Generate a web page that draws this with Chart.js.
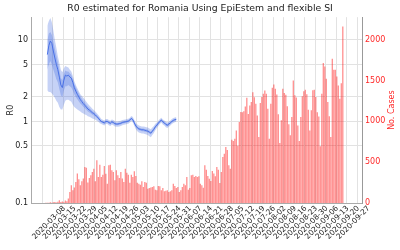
<!DOCTYPE html>
<html>
<head>
<meta charset="utf-8">
<script src="https://cdn.jsdelivr.net/npm/chart.js@4"></script>
<style>
  html, body { margin: 0; padding: 0; background: #fff; }
  #wrap { width: 400px; height: 250px; }
</style>
</head>
<body>
<div id="wrap"><canvas id="chart" width="400" height="250"></canvas></div>
<script>
// daily new cases, first value is 2020-03-07
const casesStart = '2020-03-07';
const cases = [
  2, 4, 2, 8, 3, 10, 12, 5, 15, 34, 12, 18, 10, 30, 20, 55,
  135, 216, 155, 190, 257, 360, 290, 216, 265, 300, 440, 430, 250, 306,
  339, 380, 420, 265, 523, 318, 469, 318, 347, 453, 359, 237, 461, 469,
  400, 380, 277, 400, 339, 306, 380, 300, 257, 420, 370, 347, 249, 347,
  318, 388, 330, 249, 237, 224, 265, 196, 257, 249, 175, 184, 190, 196,
  204, 163, 155, 208, 204, 155, 184, 143, 150, 155, 135, 143, 155, 237,
  208, 184, 196, 135, 155, 196, 237, 216, 318, 163, 184, 339, 347, 318,
  330, 318, 326, 237, 216, 188, 461, 408, 330, 298, 269, 392, 360, 326,
  440, 408, 245, 379, 563, 604, 685, 650, 461, 420, 775, 760, 787, 889,
  700, 991, 1114, 1110, 1123, 1180, 1287, 1090, 1195, 1236, 1357, 1295, 1216, 1070,
  808, 1224, 1297, 1336, 1377, 1338, 1154, 787, 1216, 1410, 1451, 1400, 1328, 1085,
  734, 1012, 1398, 1347, 1324, 1184, 963, 828, 1053, 1500, 1318, 1290, 950, 759,
  1053, 1306, 1367, 1385, 1330, 1143, 889, 1134, 1379, 1385, 1298, 1110, 1060, 694,
  1338, 1713, 1672, 1520, 1236, 1061, 808, 1767, 1631, 1632, 1550, 1439, 1275, 1467,
  2162
];

// R0 estimate, first value is 2020-03-08
const r0Start = '2020-03-08';
const r0Mean = [
  6.6, 8.5, 9.7, 9.0, 7.3, 6.0, 5.0, 4.3, 3.5, 2.8, 2.6, 3.2, 3.7, 3.6, 3.7, 3.5,
  3.4, 3.0, 2.6, 2.35, 2.15, 2.0, 1.85, 1.75, 1.65, 1.58, 1.5, 1.42, 1.38, 1.33,
  1.28, 1.25, 1.2, 1.15, 1.1, 1.04, 1.0, 0.98, 0.96, 1.0, 1.0, 0.97, 0.95, 0.99,
  0.97, 0.94, 0.93, 0.93, 0.94, 0.95, 0.97, 0.98, 0.99, 1.0, 1.01, 1.04, 1.09, 1.05,
  0.96, 0.88, 0.84, 0.81, 0.8, 0.79, 0.79, 0.78, 0.77, 0.76, 0.74, 0.72, 0.76, 0.8,
  0.86, 0.9, 0.95, 1.0, 1.04, 0.99, 0.96, 0.92, 0.9, 0.93, 0.96, 1.0, 1.03, 1.05, 1.06
];
const r0Hi95 = [
  15, 17, 18.5, 16.5, 13, 10, 8, 6.3, 5.2, 4.3, 4.0, 4.5, 4.8, 4.7, 4.6, 4.3,
  4.1, 3.6, 3.1, 2.8, 2.55, 2.35, 2.15, 2.05, 1.95, 1.85, 1.75, 1.65, 1.57, 1.5,
  1.43, 1.38, 1.32, 1.26, 1.2, 1.13, 1.07, 1.05, 1.03, 1.07, 1.07, 1.04, 1.02, 1.06,
  1.04, 1.01, 1.0, 1.0, 1.01, 1.02, 1.04, 1.05, 1.06, 1.07, 1.08, 1.11, 1.17, 1.13,
  1.04, 0.96, 0.92, 0.89, 0.88, 0.87, 0.87, 0.86, 0.85, 0.84, 0.82, 0.8, 0.84, 0.88,
  0.94, 0.97, 1.02, 1.07, 1.11, 1.06, 1.03, 0.99, 0.97, 1.0, 1.03, 1.07, 1.1, 1.12, 1.13
];
const r0Lo95 = [
  2.4, 2.3, 2.3, 2.2, 2.1, 1.95, 1.8, 1.7, 1.5, 1.4, 1.4, 1.6, 1.8, 1.85, 1.85, 1.8,
  1.75, 1.6, 1.5, 1.45, 1.4, 1.36, 1.32, 1.28, 1.25, 1.22, 1.2, 1.16, 1.14, 1.12,
  1.09, 1.07, 1.05, 1.02, 0.99, 0.95, 0.93, 0.91, 0.89, 0.93, 0.93, 0.9, 0.88, 0.92,
  0.9, 0.87, 0.86, 0.86, 0.87, 0.88, 0.9, 0.91, 0.92, 0.93, 0.94, 0.97, 1.01, 0.97,
  0.88, 0.8, 0.76, 0.73, 0.72, 0.71, 0.71, 0.7, 0.69, 0.68, 0.66, 0.64, 0.68, 0.72,
  0.78, 0.83, 0.88, 0.93, 0.97, 0.92, 0.89, 0.85, 0.83, 0.86, 0.89, 0.93, 0.96, 0.98, 0.99
];
const r0Hi50 = [
  10, 12, 12.5, 11.5, 9.5, 7.8, 6.4, 5.3, 4.3, 3.4, 3.2, 3.8, 4.2, 4.1, 4.1, 3.9,
  3.7, 3.3, 2.85, 2.6, 2.38, 2.2, 2.02, 1.9, 1.78, 1.7, 1.6, 1.52, 1.46, 1.4,
  1.34, 1.3, 1.25, 1.2, 1.14, 1.08, 1.03, 1.01, 0.99, 1.03, 1.03, 1.0, 0.98, 1.02,
  1.0, 0.97, 0.96, 0.96, 0.97, 0.98, 1.0, 1.01, 1.02, 1.03, 1.04, 1.07, 1.12, 1.08,
  0.99, 0.91, 0.87, 0.84, 0.83, 0.82, 0.82, 0.81, 0.8, 0.79, 0.77, 0.75, 0.79, 0.83,
  0.89, 0.93, 0.98, 1.03, 1.07, 1.02, 0.99, 0.95, 0.93, 0.96, 0.99, 1.03, 1.06, 1.08, 1.09
];
const r0Lo50 = [
  4.3, 5.0, 5.5, 5.0, 4.3, 3.8, 3.3, 3.0, 2.5, 2.1, 2.0, 2.4, 2.7, 2.7, 2.8, 2.7,
  2.6, 2.4, 2.15, 2.0, 1.87, 1.76, 1.66, 1.59, 1.51, 1.45, 1.39, 1.32, 1.29, 1.25,
  1.21, 1.18, 1.14, 1.1, 1.06, 1.0, 0.97, 0.95, 0.93, 0.97, 0.97, 0.94, 0.92, 0.96,
  0.94, 0.91, 0.9, 0.9, 0.91, 0.92, 0.94, 0.95, 0.96, 0.97, 0.98, 1.01, 1.06, 1.02,
  0.93, 0.85, 0.81, 0.78, 0.77, 0.76, 0.76, 0.75, 0.74, 0.73, 0.71, 0.69, 0.73, 0.77,
  0.83, 0.87, 0.92, 0.97, 1.01, 0.96, 0.93, 0.89, 0.87, 0.9, 0.93, 0.97, 1.0, 1.02, 1.03
];

const tickLabels = [
  '2020-03-08', '2020-03-15', '2020-03-22', '2020-03-29', '2020-04-05', '2020-04-12',
  '2020-04-19', '2020-04-26', '2020-05-03', '2020-05-10', '2020-05-17', '2020-05-24',
  '2020-05-31', '2020-06-07', '2020-06-14', '2020-06-21', '2020-06-28', '2020-07-05',
  '2020-07-12', '2020-07-19', '2020-07-26', '2020-08-02', '2020-08-09', '2020-08-16',
  '2020-08-23', '2020-08-30', '2020-09-06', '2020-09-13', '2020-09-20', '2020-09-27'
];
const r0Ticks = [0.1, 0.5, 1, 2, 5, 10];
const caseTicks = [0, 500, 1000, 1500, 2000];

// x axis is days since the first tick
const origin = Date.parse(tickLabels[0]);
function dayOf(s) {
  return Math.round((Date.parse(s) - origin) / 86400000);
}
function toPoints(start, arr) {
  const d0 = dayOf(start);
  return arr.map((v, i) => ({ x: d0 + i, y: v }));
}

const FONT = 'DejaVu Sans';
const BLUE = 'rgb(80,120,235)';
const BAND = 'rgba(65,105,225,0.3)';
const RED = 'rgb(255,40,40)';

// right axis title, reading bottom to top like matplotlib
const rightTitle = {
  id: 'rightTitle',
  afterDraw(chart) {
    const ctx = chart.ctx;
    const area = chart.chartArea;
    ctx.save();
    ctx.translate(392, (area.top + area.bottom) / 2);
    ctx.rotate(-Math.PI / 2);
    ctx.font = '8px "' + FONT + '"';
    ctx.fillStyle = RED;
    ctx.textAlign = 'center';
    ctx.textBaseline = 'middle';
    ctx.fillText('No. Cases', 0, 0);
    ctx.restore();
  }
};

const bandLine = {
  type: 'line', yAxisID: 'yL', pointRadius: 0, borderWidth: 0, tension: 0
};

new Chart(document.getElementById('chart'), {
  type: 'bar',
  data: {
    datasets: [
      Object.assign({}, bandLine, {
        data: toPoints(r0Start, r0Hi95), fill: '+1', backgroundColor: BAND
      }),
      Object.assign({}, bandLine, { data: toPoints(r0Start, r0Lo95), fill: false }),
      Object.assign({}, bandLine, {
        data: toPoints(r0Start, r0Hi50), fill: '+1', backgroundColor: BAND
      }),
      Object.assign({}, bandLine, { data: toPoints(r0Start, r0Lo50), fill: false }),
      {
        type: 'line', yAxisID: 'yL', data: toPoints(r0Start, r0Mean),
        borderColor: BLUE, borderWidth: 1, pointRadius: 0, fill: false, tension: 0
      },
      {
        type: 'bar', yAxisID: 'yR', data: toPoints(casesStart, cases),
        backgroundColor: 'rgba(255,0,0,0.45)', borderWidth: 0,
        barPercentage: 0.85, categoryPercentage: 1
      }
    ]
  },
  options: {
    responsive: false,
    animation: false,
    layout: { padding: 0 },
    plugins: {
      legend: { display: false },
      tooltip: { enabled: false },
      title: {
        display: true,
        text: 'R0 estimated for Romania Using EpiEstem and flexible SI',
        color: '#222',
        font: { family: FONT, size: 9.3, weight: 'normal' },
        padding: { top: 3, bottom: 3 }
      }
    },
    scales: {
      x: {
        type: 'linear',
        offset: false,
        min: -10.9,
        max: 209.8,
        afterBuildTicks: (axis) => {
          axis.ticks = tickLabels.map((s) => ({ value: dayOf(s) }));
        },
        afterFit: (axis) => { axis.height = 47; },
        ticks: {
          autoSkip: false,
          minRotation: 45,
          maxRotation: 45,
          labelOffset: 17,
          padding: 1,
          color: '#222',
          font: { family: FONT, size: 7.5 },
          callback: (v, i) => tickLabels[i]
        },
        grid: { color: '#e2e2e2', drawTicks: false },
        border: { color: '#aaa' }
      },
      yL: {
        type: 'logarithmic',
        position: 'left',
        min: 0.1,
        max: 19,
        afterBuildTicks: (axis) => {
          axis.ticks = r0Ticks.map((v) => ({ value: v }));
        },
        afterFit: (axis) => { axis.width = 31; },
        ticks: {
          padding: 3,
          color: '#222',
          font: { family: FONT, size: 8 },
          callback: (v) => String(v)
        },
        title: {
          display: true, text: 'R0', color: '#222',
          font: { family: FONT, size: 8 }, padding: { top: 6, bottom: 0 }
        },
        grid: { color: '#e2e2e2', drawTicks: false },
        border: { color: '#aaa' }
      },
      yR: {
        type: 'linear',
        position: 'right',
        min: 0,
        max: 2275,
        afterBuildTicks: (axis) => {
          axis.ticks = caseTicks.map((v) => ({ value: v }));
        },
        afterFit: (axis) => { axis.width = 38; },
        ticks: {
          padding: 3,
          color: RED,
          font: { family: FONT, size: 8 },
          callback: (v) => String(v)
        },
        grid: { display: false, drawTicks: false },
        border: { color: '#999' }
      }
    }
  },
  plugins: [rightTitle]
});
</script>
</body>
</html>
